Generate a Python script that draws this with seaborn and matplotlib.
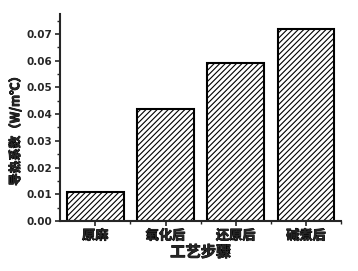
import matplotlib
matplotlib.use("Agg")
import matplotlib.pyplot as plt
import matplotlib.patheffects as pe
from matplotlib.ticker import MultipleLocator
import seaborn as sns
import pandas as pd

categories = ["原麻", "氧化后", "还原后", "碱煮后"]
values = [0.011, 0.042, 0.059, 0.072]
y_ticks = [0.00, 0.01, 0.02, 0.03, 0.04, 0.05, 0.06, 0.07]

sns.set_theme(style="ticks")
plt.rcParams['font.family'] = ['Noto Sans CJK SC', 'DejaVu Sans']
plt.rcParams['font.weight'] = 'bold'
plt.rcParams['hatch.linewidth'] = 0.8

df = pd.DataFrame({"step": categories, "k": values})

fig = plt.figure(figsize=(3.58, 2.71), dpi=100)
ax = fig.add_axes([0.168, 0.185, 0.785, 0.763])
sns.barplot(data=df, x="step", y="k", ax=ax, color="white", width=0.81,
            edgecolor="black", linewidth=1.5, hatch="//////")

heavy = [pe.withStroke(linewidth=0.6, foreground="black")]

ax.set_xlim(-0.5, 3.5)
ax.set_ylim(0, 0.0775)
ax.set_yticks(y_ticks)
ax.set_yticklabels([f"{v:.2f}" for v in y_ticks], fontsize=7.5, fontweight='bold',
                   family=['DejaVu Sans'])
ax.yaxis.set_minor_locator(MultipleLocator(0.005))
ax.set_xticks(range(len(categories)))
ax.set_xticklabels(categories, fontsize=9.5, fontweight='bold')
for t in ax.get_xticklabels():
    t.set_path_effects(heavy)
ax.set_xticks([0.5, 1.5, 2.5, 3.5], minor=True)
ax.tick_params(axis='both', which='major', direction='out', length=3.5, width=1.2, pad=2)
ax.tick_params(axis='both', which='minor', direction='out', length=2, width=1)
for s in ['top', 'right']:
    ax.spines[s].set_visible(False)
for s in ['left', 'bottom']:
    ax.spines[s].set_linewidth(1.5)
xl = ax.set_xlabel("工艺步骤", fontsize=11, fontweight='bold', labelpad=1)
yl = ax.set_ylabel("导热系数（W/m℃）", fontsize=9, fontweight='bold', labelpad=3)
ax.yaxis.set_label_coords(-0.135, 0.45)
xl.set_path_effects(heavy)
yl.set_path_effects(heavy)

fig.savefig("out.png", dpi=100)
